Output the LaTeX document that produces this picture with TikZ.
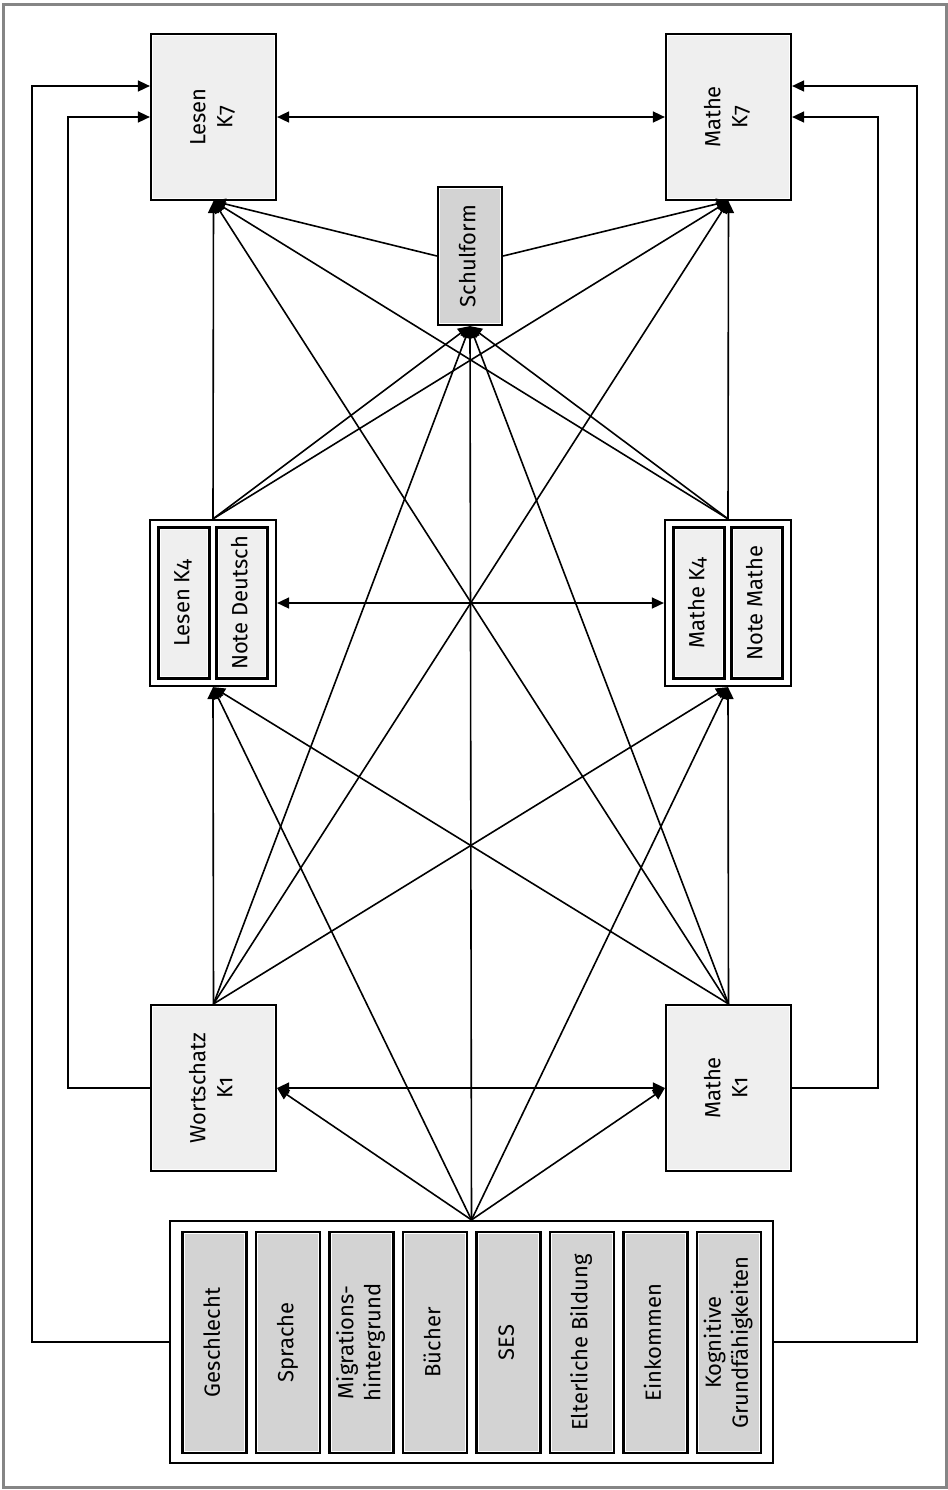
\documentclass[tikz,border=0pt]{standalone}
\usepackage{fontspec}
\setmainfont{Fira Sans}[Numbers=OldStyle]
\usepackage{graphicx}
\usetikzlibrary{arrows.meta}

\definecolor{lightbox}{HTML}{EFEFEF}
\definecolor{darkbox}{HTML}{D3D3D3}
\definecolor{framegray}{HTML}{858585}

\newcommand{\vlabel}[1]{\rotatebox{90}{\begin{tabular}{@{}c@{}}#1\end{tabular}}}

\begin{document}
\begin{tikzpicture}[x=0.5pt, y=-0.5pt,
    >={Triangle[length=6pt, width=5.5pt]},
    every node/.style={font=\fontsize{11}{13.5}\selectfont},
    inset/.style={path picture={\draw[white, line width=2.4pt] (path picture bounding box.south west) rectangle (path picture bounding box.north east);}},
    mainbox/.style={rectangle, draw, line width=1.1pt, fill=lightbox, inset, inner sep=0pt, minimum width=62.5pt, minimum height=83pt},
    groupbox/.style={rectangle, draw, line width=1.1pt, fill=white, inner sep=0pt, minimum width=63pt, minimum height=83pt},
    innerbox/.style={rectangle, draw, line width=1.1pt, fill=lightbox, inset, inner sep=0pt, minimum width=25.5pt, minimum height=75.5pt},
    factor/.style={rectangle, draw, line width=1.1pt, fill=darkbox, inset, inner sep=0pt, minimum width=32pt, minimum height=110.5pt},
    link/.style={->, line width=0.8pt}]
    \useasboundingbox (0,0) rectangle (948,1490);
    \draw[framegray, line width=1.5pt] (3,4) rectangle (946,1487);

    % Klasse 7
    \node[mainbox] (l7) at (213.5,117) {\vlabel{Lesen\\K7}};
    \node[mainbox, xshift=257.5pt] (m7) at (l7) {\vlabel{Mathe\\K7}};
    \node[factor, minimum height=69pt] (sform) at (470,256) {\vlabel{Schulform}};

    % Klasse 4
    \node[groupbox] (gl4) at (213,603) {};
    \node[innerbox, xshift=-14.5pt] (l4) at (gl4) {\vlabel{Lesen K4}};
    \node[innerbox, xshift=14.5pt] (nd) at (gl4) {\vlabel{Note Deutsch}};
    \node[groupbox, xshift=257.5pt] (gm4) at (gl4) {};
    \node[innerbox, xshift=-14.5pt] (m4) at (gm4) {\vlabel{Mathe K4}};
    \node[innerbox, xshift=14.5pt] (nm) at (gm4) {\vlabel{Note Mathe}};

    % Klasse 1
    \node[mainbox] (w1) at (213.5,1088) {\vlabel{Wortschatz\\K1}};
    \node[mainbox, xshift=257.5pt] (m1) at (w1) {\vlabel{Mathe\\K1}};

    % Hintergrund
    \node[groupbox, minimum width=301.5pt, minimum height=121pt] (bg) at (471.5,1342) {};
    \node[factor] (ge) at (214.5,1342.5) {\vlabel{Geschlecht}};
    \node[factor, xshift=36.75pt] (spr) at (ge) {\vlabel{Sprache}};
    \node[factor, xshift=36.75pt] (mig) at (spr) {\vlabel{Migrations-\\hintergrund}};
    \node[factor, xshift=36.75pt] (bue) at (mig) {\vlabel{Bücher}};
    \node[factor, xshift=36.75pt] (ses) at (bue) {\vlabel{SES}};
    \node[factor, xshift=36.75pt] (eb) at (ses) {\vlabel{Elterliche Bildung}};
    \node[factor, xshift=36.75pt] (ek) at (eb) {\vlabel{Einkommen}};
    \node[factor, xshift=36.75pt] (kg) at (ek) {\vlabel{Kognitive\\Grundfähigkeiten}};

    \draw[link, <->] (l7.east) -- (m7.west);
    \draw[link, <->] (gl4.east) -- (gm4.west);
    \draw[link, <->] (w1.east) -- (m1.west);

    \draw[link] (bg.north) -- (w1.east);
    \draw[link] (bg.north) -- (m1.west);
    \draw[link] (bg.north) -- (gl4.south);
    \draw[link] (bg.north) -- (gm4.south);
    \draw[link] (bg.north) -- (sform.south);

    \draw[link] (w1.north) -- (gl4.south);
    \draw[link] (w1.north) -- (gm4.south);
    \draw[link] (w1.north) -- (sform.south);
    \draw[link] (w1.north) -- (m7.south);
    \draw[link] (m1.north) -- (gm4.south);
    \draw[link] (m1.north) -- (gl4.south);
    \draw[link] (m1.north) -- (sform.south);
    \draw[link] (m1.north) -- (l7.south);

    \draw[link] (gl4.north) -- (l7.south);
    \draw[link] (gl4.north) -- (sform.south);
    \draw[link] (gl4.north) -- (m7.south);
    \draw[link] (gm4.north) -- (m7.south);
    \draw[link] (gm4.north) -- (sform.south);
    \draw[link] (gm4.north) -- (l7.south);

    \draw[link] (sform.west) -- (l7.south);
    \draw[link] (sform.east) -- (m7.south);

    \draw[link] (bg.west) -- ++(-68.5pt,0) |- ([yshift=15.5pt]l7.west);
    \draw[link] (w1.west) -- ++(-41pt,0) |- (l7.west);
    \draw[link] (bg.east) -- ++(71.5pt,0) |- ([yshift=15.5pt]m7.east);
    \draw[link] (m1.east) -- ++(43pt,0) |- (m7.east);
\end{tikzpicture}
\end{document}
